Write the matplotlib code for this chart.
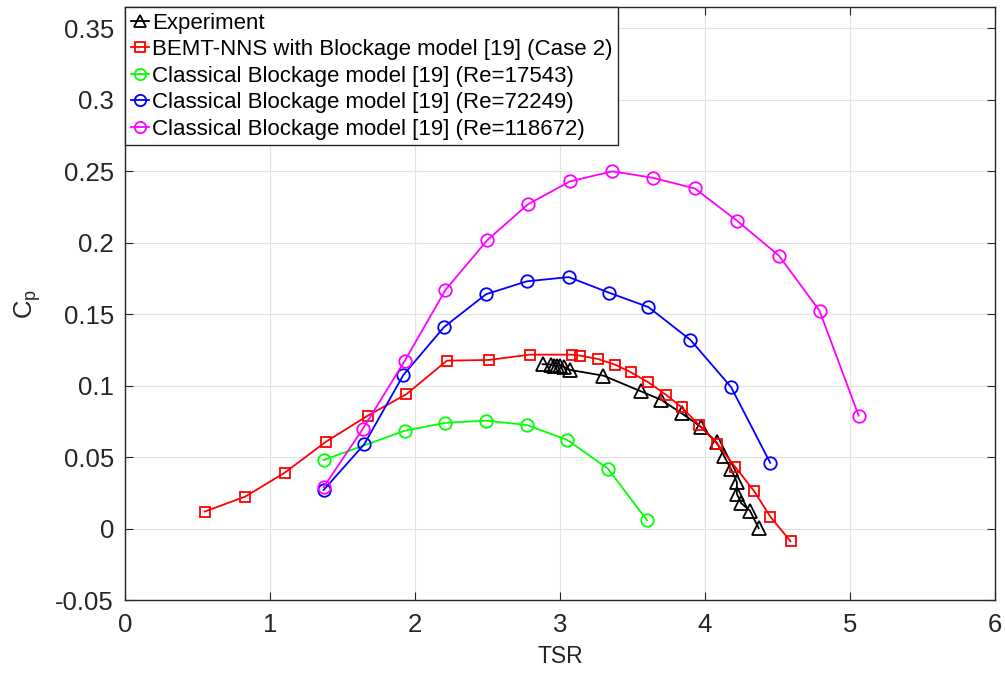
import matplotlib
matplotlib.use("Agg")
import matplotlib.pyplot as plt

# values
tsr_exp = [2.88, 2.94, 2.96, 2.98, 3.00, 3.03, 3.07, 3.30, 3.56, 3.70, 3.84, 3.97,
           4.08, 4.13, 4.18, 4.22, 4.22, 4.25, 4.31, 4.37]
cp_exp = [0.115, 0.1147, 0.1138, 0.114, 0.114, 0.113, 0.111, 0.107, 0.096, 0.090,
          0.0806, 0.0713, 0.0604, 0.051, 0.0417, 0.0324, 0.0243, 0.0177, 0.0126, 0.0003]

tsr_bemt = [0.55, 0.83, 1.10, 1.386, 1.674, 1.94, 2.22, 2.51, 2.79, 3.08, 3.14, 3.26,
            3.38, 3.49, 3.61, 3.73, 3.84, 3.96, 4.085, 4.21, 4.34, 4.45, 4.59]
cp_bemt = [0.0119, 0.0224, 0.039, 0.0608, 0.079, 0.094, 0.1175, 0.118, 0.1217, 0.1217,
           0.121, 0.1187, 0.1147, 0.1093, 0.1023, 0.0937, 0.0848, 0.0725, 0.0592,
           0.0429, 0.0261, 0.0084, -0.0089]

tsr_re17543 = [1.37, 1.93, 2.21, 2.49, 2.77, 3.05, 3.33, 3.60]
cp_re17543 = [0.048, 0.0685, 0.074, 0.0755, 0.0725, 0.062, 0.042, 0.0058]

tsr_re72249 = [1.37, 1.65, 1.92, 2.20, 2.49, 2.77, 3.06, 3.34, 3.61, 3.90, 4.18, 4.45]
cp_re72249 = [0.027, 0.059, 0.1075, 0.141, 0.164, 0.173, 0.176, 0.165, 0.155, 0.132,
              0.099, 0.046]

tsr_re118672 = [1.37, 1.64, 1.93, 2.21, 2.50, 2.78, 3.07, 3.36, 3.64, 3.93, 4.22, 4.51,
                4.79, 5.06]
cp_re118672 = [0.029, 0.0697, 0.1175, 0.167, 0.202, 0.227, 0.243, 0.250, 0.2455, 0.238,
               0.2155, 0.191, 0.1525, 0.079]

xticks = [0, 1, 2, 3, 4, 5, 6]
yticks = [-0.05, 0, 0.05, 0.1, 0.15, 0.2, 0.25, 0.3, 0.35]
ytick_labels = ["-0.05", "0", "0.05", "0.1", "0.15", "0.2", "0.25", "0.3", "0.35"]

labels = [
    "Experiment",
    "BEMT-NNS with Blockage model [19] (Case 2)",
    "Classical Blockage model [19] (Re=17543)",
    "Classical Blockage model [19] (Re=72249)",
    "Classical Blockage model [19] (Re=118672)",
]

plt.rcParams["font.family"] = ["Liberation Sans", "DejaVu Sans"]
plt.rcParams["mathtext.fontset"] = "custom"
plt.rcParams["mathtext.rm"] = "Liberation Sans"

axis_color = "#262626"

fig = plt.figure(figsize=(10.05, 6.75), dpi=100)
ax = fig.add_axes([0.1244, 0.1111, 0.8656, 0.8785])

line_kw = dict(linewidth=1.3, markerfacecolor="none", markeredgewidth=1.3)
ax.plot(tsr_exp, cp_exp, "-^", color="black", markersize=9.5, label=labels[0], **line_kw)
ax.plot(tsr_bemt, cp_bemt, "-s", color="red", markersize=7.5, label=labels[1], **line_kw)
ax.plot(tsr_re17543, cp_re17543, "-o", color="#00ff00", markersize=9, label=labels[2], **line_kw)
ax.plot(tsr_re72249, cp_re72249, "-o", color="blue", markersize=9, label=labels[3], **line_kw)
ax.plot(tsr_re118672, cp_re118672, "-o", color="magenta", markersize=9, label=labels[4], **line_kw)

ax.set_xlim(0, 6)
ax.set_ylim(-0.05, 0.365)
ax.set_xticks(xticks)
ax.set_yticks(yticks)
ax.set_yticklabels(ytick_labels)

ax.grid(True, color="#e2e2e2", linewidth=0.8)
ax.set_axisbelow(True)

for spine in ax.spines.values():
    spine.set_color(axis_color)
    spine.set_linewidth(1.0)

ax.tick_params(axis="both", direction="in", length=6, width=0.8, color=axis_color,
               labelcolor=axis_color, labelsize=18.5, top=True, right=True)
ax.tick_params(axis="x", pad=9)
ax.tick_params(axis="y", pad=8)

ax.set_xlabel("TSR", fontsize=16.5, color=axis_color, labelpad=6)
ax.set_ylabel(r"C$_\mathrm{p}$", fontsize=18.5, color=axis_color, labelpad=9)

leg = ax.legend(loc="upper left", fontsize=16, borderaxespad=0, frameon=True,
                fancybox=False, framealpha=1, edgecolor=axis_color,
                handlelength=0.85, handletextpad=0.12, labelspacing=0.25,
                borderpad=0.25, markerscale=0.9)
leg.get_frame().set_linewidth(1.0)

fig.savefig("out.png", dpi=100, facecolor="white")
